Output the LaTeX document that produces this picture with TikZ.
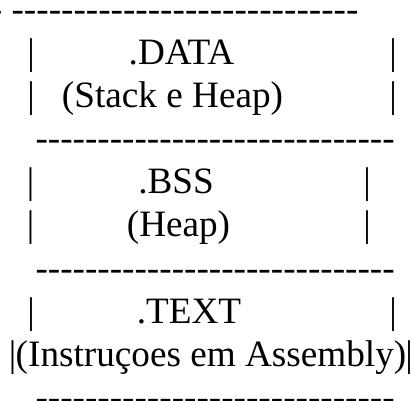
\documentclass[tikz,border=0pt]{standalone}
\usepackage{fontspec}
\setmainfont{Liberation Serif}[Ligatures=TeXOff]
\newcommand\myhy[1]{\foreach \i in {1,...,#1}{-}}
\begin{document}
\begin{tikzpicture}[x=1pt,y=-1pt,
  txt/.style={inner sep=0pt, outer sep=0pt, font=\fontsize{37.2}{43}\selectfont, anchor=base},
  dashrow/.style={txt, anchor=base west},
  bar/.style={txt}]
\fill[white] (0,0) rectangle (413,400);
\useasboundingbox (0,0) rectangle (413,400);
% dash rows
\node[dashrow] (d1) at (-10.1,21.4) {-\ \myhy{28}};
\node[dashrow] (d4) at (35.5,150.7) {\myhy{29}};
\node[dashrow] (d7) at (35.5,280.0) {\myhy{29}};
\node[dashrow] (d10) at (35.5,409.3) {\myhy{29}};
% .DATA block
\node[bar] (l2) at (31,64.5) {|};
\node[bar] (r2) at (393,64.5) {|};
\node[txt] (data) at (181.5,64.5) {.DATA};
\node[bar] (l3) at (31,107.6) {|};
\node[bar] (r3) at (393,107.6) {|};
\node[txt] (stack) at (172.5,107.6) {(Stack e Heap)};
% .BSS block
\node[bar] (l5) at (30.5,193.8) {|};
\node[bar] (r5) at (367,193.8) {|};
\node[txt] (bss) at (176,193.8) {.BSS};
\node[bar] (l6) at (30.5,236.9) {|};
\node[bar] (r6) at (367,236.9) {|};
\node[txt] (heap) at (178.5,236.9) {(Heap)};
% .TEXT block
\node[bar] (l8) at (31,323.1) {|};
\node[bar] (r8) at (393,323.1) {|};
\node[txt] (text) at (189,323.1) {.TEXT};
\node[bar] (l9) at (12.7,366.2) {|};
\node[bar] (r9) at (409,366.2) {|};
\node[txt] (instr) at (211,366.2) {(Instruçoes em Assembly)};
\end{tikzpicture}
\end{document}
